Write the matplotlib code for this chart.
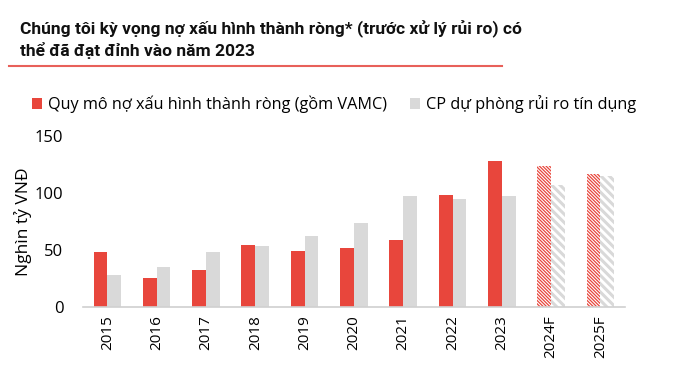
import numpy as np
import matplotlib.pyplot as plt

# du lieu doc tu hinh
years = ['2015', '2016', '2017', '2018', '2019', '2020', '2021', '2022', '2023', '2024F', '2025F']
no_xau = [48, 25.7, 32.5, 54.7, 49, 52, 59, 98, 128, 123.7, 116.7]
du_phong = [28, 34.8, 48.5, 53.5, 62, 74, 97, 95, 97.6, 107, 115]
n_forecast = 2

RED = '#E8463C'
GRAY = '#D9D9D9'

plt.rcParams['font.family'] = ['Open Sans', 'DejaVu Sans']

fig = plt.figure(figsize=(6.78, 3.72), dpi=100)
ax = fig.add_axes([0.122, 0.175, 0.8, 0.459])

x = np.arange(len(years))
w = 0.28
n_act = len(years) - n_forecast

ax.bar(x[:n_act] - w / 2, no_xau[:n_act], w, color=RED, label='Quy mô nợ xấu hình thành ròng (gồm VAMC)')
ax.bar(x[:n_act] + w / 2, du_phong[:n_act], w, color=GRAY, label='CP dự phòng rủi ro tín dụng')

b1 = ax.bar(x[n_act:] - w / 2, no_xau[n_act:], w, color='white', edgecolor=RED, hatch='\\' * 10, linewidth=0)
b2 = ax.bar(x[n_act:] + w / 2, du_phong[n_act:], w, color='white', edgecolor=GRAY, hatch='\\' * 4, linewidth=0)
for p in b1:
    p.set_hatch_linewidth(0.9)
for p in b2:
    p.set_hatch_linewidth(2.2)

ax.set_xlim(-0.5, 10.5)
ax.set_ylim(0, 150)
ax.set_yticks([0, 50, 100, 150])
ax.set_xticks(x)
ax.set_xticklabels(years, rotation=90, fontsize=11)
ax.tick_params(axis='y', labelsize=12, length=0, pad=14)
ax.tick_params(axis='x', length=0, pad=6)
for s in ['top', 'right', 'left']:
    ax.spines[s].set_visible(False)
ax.spines['bottom'].set_color('#D0D0D0')
ax.spines['bottom'].set_linewidth(1.2)
ax.set_ylabel('Nghìn tỷ VNĐ', fontsize=12.5, labelpad=2)

fig.text(0.03, 0.947, 'Chúng tôi kỳ vọng nợ xấu hình thành ròng* (trước xử lý rủi ro) có\nthể đã đạt đỉnh vào năm 2023',
         fontsize=12.5, fontweight='bold', va='top', ha='left', linespacing=1.3, color='#111111',
         family=['Roboto', 'DejaVu Sans'])
fig.add_artist(plt.Line2D([0.013, 0.74], [0.823, 0.823], color='#E8605A', linewidth=1.5))

fig.legend(loc='center left', bbox_to_anchor=(0.025, 0.72), ncol=2, frameon=False, fontsize=11.7,
           handlelength=0.65, handleheight=0.65, handletextpad=0.35, columnspacing=1.4)

fig.savefig('out.png', dpi=100)
